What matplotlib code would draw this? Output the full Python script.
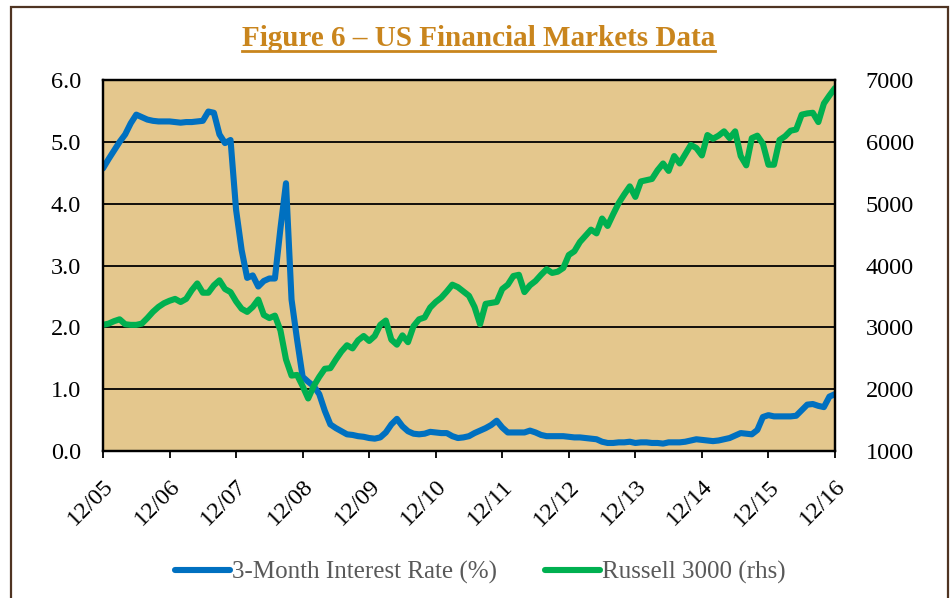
import matplotlib
matplotlib.use("Agg")
import matplotlib.pyplot as plt
from matplotlib.lines import Line2D
from matplotlib.patches import Rectangle

# monthly readings, Dec 2005 .. Dec 2016
rate = [4.57, 4.72, 4.86, 5.00, 5.12, 5.30, 5.44, 5.40, 5.36, 5.34,
        5.33, 5.33, 5.33, 5.32, 5.31, 5.32, 5.32, 5.33, 5.34, 5.49,
        5.47, 5.12, 4.98, 5.03, 3.90, 3.25, 2.80, 2.84, 2.66, 2.75,
        2.79, 2.79, 3.60, 4.33, 2.45, 1.80, 1.20, 1.12, 1.05, 0.92,
        0.65, 0.43, 0.37, 0.32, 0.27, 0.26, 0.24, 0.23, 0.21, 0.20,
        0.22, 0.30, 0.43, 0.52, 0.40, 0.32, 0.28, 0.27, 0.28, 0.31,
        0.30, 0.29, 0.29, 0.24, 0.21, 0.22, 0.24, 0.29, 0.33, 0.37,
        0.42, 0.49, 0.38, 0.30, 0.30, 0.30, 0.30, 0.33, 0.30, 0.26,
        0.24, 0.24, 0.24, 0.24, 0.23, 0.22, 0.22, 0.21, 0.20, 0.19,
        0.15, 0.13, 0.13, 0.14, 0.14, 0.15, 0.13, 0.14, 0.14, 0.13,
        0.13, 0.12, 0.14, 0.14, 0.14, 0.15, 0.17, 0.19, 0.18, 0.17,
        0.16, 0.17, 0.19, 0.21, 0.25, 0.29, 0.28, 0.27, 0.34, 0.55,
        0.58, 0.56, 0.56, 0.56, 0.56, 0.57, 0.66, 0.75, 0.76, 0.73,
        0.71, 0.88, 0.92]
russell = [3040, 3060, 3100, 3130, 3050, 3040, 3040, 3060, 3150, 3250,
           3330, 3390, 3430, 3460, 3410, 3460, 3600, 3710, 3560, 3560,
           3680, 3760, 3620, 3570, 3420, 3300, 3250, 3330, 3450, 3200,
           3150, 3190, 2950, 2480, 2220, 2230, 2050, 1850, 2050, 2200,
           2330, 2340, 2480, 2610, 2710, 2660, 2790, 2860, 2780, 2860,
           3040, 3110, 2800, 2720, 2870, 2760, 3020, 3130, 3160, 3320,
           3410, 3480, 3580, 3690, 3650, 3580, 3510, 3330, 3050, 3380,
           3395, 3410, 3620, 3690, 3830, 3850, 3570, 3680, 3750, 3850,
           3940, 3880, 3900, 3960, 4170, 4230, 4380, 4480, 4580, 4520,
           4760, 4640, 4830, 5010, 5150, 5280, 5110, 5360, 5380, 5400,
           5540, 5650, 5530, 5770, 5650, 5800, 5950, 5900, 5780, 6110,
           6050, 6100, 6170, 6060, 6170, 5770, 5620, 6060, 6100, 5970,
           5630, 5630, 6030, 6090, 6180, 6200, 6440, 6460, 6470, 6320,
           6620, 6750, 6870]
tick_labels = ["12/05", "12/06", "12/07", "12/08", "12/09", "12/10",
               "12/11", "12/12", "12/13", "12/14", "12/15", "12/16"]

plt.rcParams["font.family"] = ["Liberation Serif", "DejaVu Serif"]
plt.rcParams["font.size"] = 16

months = list(range(len(rate)))

fig = plt.figure(figsize=(9.51, 5.98), dpi=100)
ax = fig.add_axes([0.1083, 0.2458, 0.7697, 0.6204])
ax.set_facecolor("#E4C78D")
ax.plot(months, rate, color="#0070C0", linewidth=4.4, solid_capstyle="round",
        label="3-Month Interest Rate (%)")
ax.set_xlim(0, 132)
ax.set_ylim(0, 6)
ax.set_yticks([0, 1, 2, 3, 4, 5, 6])
ax.set_yticklabels(["%.1f" % v for v in range(7)])
ax.set_xticks(range(0, 133, 12))
ax.set_xticklabels(tick_labels, rotation=45, ha="right", rotation_mode="anchor")
ax.tick_params(axis="y", length=0, pad=16, labelsize=17.5)
ax.tick_params(axis="x", direction="out", length=5, width=1.3, pad=13, labelsize=17.5)
ax.grid(axis="y", color="black", linewidth=1.3)
ax.set_axisbelow(True)
for s in ax.spines.values():
    s.set_linewidth(1.6)

ax2 = ax.twinx()
ax2.plot(months, russell, color="#00B050", linewidth=4.4, solid_capstyle="round",
         label="Russell 3000 (rhs)")
ax2.set_ylim(1000, 7000)
ax2.set_yticks(range(1000, 7001, 1000))
ax2.tick_params(axis="y", length=0, pad=22, labelsize=17.5)
for s in ax2.spines.values():
    s.set_linewidth(1.6)

handles = ax.get_lines() + ax2.get_lines()
leg = fig.legend(handles, [h.get_label() for h in handles], loc="center",
                 bbox_to_anchor=(0.505, 0.043), ncol=2, frameon=False, fontsize=18,
                 handlelength=2.2, handletextpad=0.1, columnspacing=1.9)
for t in leg.get_texts():
    t.set_color("#595959")

title = fig.text(0.503, 0.923, "Figure 6 \u2013 US Financial Markets Data",
                 ha="center", va="baseline", fontsize=21, fontweight="bold",
                 color="#C9851D")

# underline under the title
fig.canvas.draw()
bb = title.get_window_extent().transformed(fig.transFigure.inverted())
fig.add_artist(Line2D([bb.x0, bb.x1], [bb.y0 + 0.002, bb.y0 + 0.002],
                      transform=fig.transFigure, color="#C9851D", linewidth=2))

fig.add_artist(Rectangle((0.0116, -0.02), 0.9852, 1.0083, transform=fig.transFigure,
                         fill=False, edgecolor="#4F3422", linewidth=1.6))

fig.savefig("out.png", dpi=100)
